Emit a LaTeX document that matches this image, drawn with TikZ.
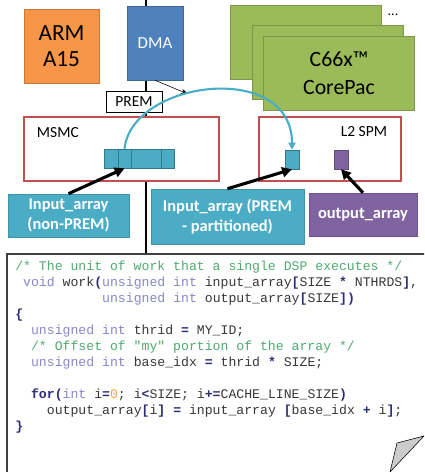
\documentclass[tikz,border=0pt]{standalone}
\usepackage{fontspec}
\setmainfont{Carlito}
\newfontfamily\codefont{Liberation Mono}
\usetikzlibrary{arrows.meta}

\definecolor{armorange}{RGB}{247,150,70}
\definecolor{dmablue}{RGB}{79,129,189}
\definecolor{memred}{RGB}{192,80,77}
\definecolor{arrcyan}{RGB}{75,172,198}
\definecolor{outpurple}{RGB}{128,100,162}
\definecolor{coregreen}{RGB}{155,187,89}
\definecolor{cmtgreen}{RGB}{80,170,110}
\definecolor{kwlav}{RGB}{135,135,200}
\definecolor{opblue}{RGB}{45,45,120}
\definecolor{numorange}{RGB}{245,165,70}
\definecolor{plaingray}{RGB}{55,55,55}

\newcommand{\cmt}[1]{\textcolor{cmtgreen}{#1}}
\newcommand{\kw}[1]{\textcolor{kwlav}{#1}}
\newcommand{\cop}[1]{\textcolor{opblue}{\bfseries #1}}
\newcommand{\cnum}[1]{\textcolor{numorange}{#1}}

\begin{document}
\frenchspacing
\begin{tikzpicture}[x=0.025cm,y=-0.025cm,
    sz/.style 2 args={minimum width=#1*0.025cm,minimum height=#2*0.025cm,inner sep=0pt},
    chip/.style={draw=#1!80!black,fill=#1,thin},
    mem/.style={draw=memred,line width=1.4pt,fill=white},
    cell/.style={draw=arrcyan!70!black,fill=arrcyan,thin},
    tag/.style={fill=#1,draw=#1!85!black,text=white,align=center,font=\fontsize{11.7}{14}\selectfont\bfseries},
    fat/.style={line width=2.2pt,-{Triangle[length=7pt,width=7pt]}},
    codeln/.style={anchor=base west,inner sep=0pt,text=plaingray,font=\codefont\fontsize{9.36}{11.4}\selectfont}]
        \useasboundingbox (0,0) rectangle (424,472);
        \clip (0,0) rectangle (424,472);
        % bus
        \coordinate (bustop) at (146,0);
        \coordinate (busend) at (146,254);
        \draw[line width=1.8pt] (bustop) -- (busend);
        % processors
        \node[chip=armorange,sz={75}{74},align=center,font=\fontsize{16.5}{19}\selectfont] (arm) at (61.5,46) {ARM\\A15};
        \node[chip=dmablue,sz={56}{74},text=white,font=\fontsize{12}{14}\selectfont] (dma) at (155,43) {DMA};
        \node[chip=coregreen,sz={151}{74}] (coreback) at (305.5,42) {};
        \node[chip=coregreen,sz={151}{74}] (coremid) at (328,62) {};
        \node[chip=coregreen,sz={151}{74},align=center,font=\fontsize{15.5}{20}\selectfont] (core) at (339,73) {C66x™\\CorePac};
        \node[font=\fontsize{10}{12}\selectfont] (dots) at (393,15) {...};
        % memories
        \node[mem,sz={195}{64}] (msmc) at (121.5,149) {};
        \node[mem,sz={142}{64}] (l2) at (330,149) {};
        \node[anchor=base west,font=\fontsize{11}{13}\selectfont] (msmclbl) at (32,138) {MSMC};
        \node[anchor=base east,font=\fontsize{11}{13}\selectfont] (l2lbl) at (392,137) {L2 SPM};
        \node[draw,fill=white,thin,sz={56}{21},font=\fontsize{11}{13}\selectfont] (prem) at (134,101.5) {PREM};
        \foreach \cx/\w [count=\i] in {111/14,124.5/13,146/30,167.5/13}
            \node[cell,sz={\w}{19}] (a\i) at (\cx,158.5) {};
        \node[cell,sz={14}{19}] (l2in) at (292,159.5) {};
        \node[draw=outpurple!75!black,fill=outpurple,thin,sz={14}{19}] (l2out) at (341,159.5) {};
        % arrays
        \node[tag=arrcyan,sz={121}{43}] (nonprem) at (68.5,215.5) {Input\_array\\(non-PREM)};
        \node[tag=arrcyan,sz={153}{55}] (prempart) at (227.5,216.5) {Input\_array (PREM\\- partitioned)};
        \node[tag=outpurple,sz={108}{43}] (outarr) at (363,214.5) {output\_array};
        \draw[fat] (nonprem.north) -- (a2.south);
        \draw[fat] (prempart.north) -- (l2in.south);
        \draw[fat] (outarr.north) -- (l2out.south);
        \coordinate (dmatip) at (188,94);
        \draw[thin,-{Stealth[length=5pt]}] (dma.south) -- (dmatip);
        \draw[arrcyan,line width=1.5pt,-{Triangle[length=5pt,width=5pt]}] (a2.north) .. controls (132,80) and (292,60) .. (l2in.north);
        % code
        \draw[black!75,line width=1.2pt] (430,254) -- (7,254) -- (7,480);
        \draw[fill=black!20,thin] (390,472) -- (397,443) -- (424,436) -- cycle;
        \node[codeln] (c1) at (15,270) {\cmt{/* The unit of work that a single DSP executes */}};
        \node[codeln] (c2) at (22.9,286) {\kw{void} work\cop{(}\kw{unsigned int} input\_array\cop{[}SIZE \cop{*} NTHRDS\cop{]},};
        \node[codeln] (c3) at (101.9,302) {\kw{unsigned int} output\_array\cop{[}SIZE\cop{])}};
        \node[codeln] (c4) at (15,318) {\cop{\{}};
        \node[codeln] (c5) at (30.8,334) {\kw{unsigned int} thrid \cop{=} MY\_ID;};
        \node[codeln] (c6) at (30.8,350) {\cmt{/* Offset of "my" portion of the array */}};
        \node[codeln] (c7) at (30.8,366) {\kw{unsigned int} base\_idx \cop{=} thrid \cop{*} SIZE;};
        \node[codeln] (c8) at (30.8,398) {\cop{for(}\kw{int} i\cop{=}\cnum{0}; i\cop{<}SIZE; i\cop{+=}CACHE\_LINE\_SIZE\cop{)}};
        \node[codeln] (c9) at (46.6,414) {output\_array\cop{[}i\cop{]} \cop{=} input\_array \cop{[}base\_idx \cop{+} i\cop{]};};
        \node[codeln] (c10) at (15,430) {\cop{\}}};
    \end{tikzpicture}
\end{document}
